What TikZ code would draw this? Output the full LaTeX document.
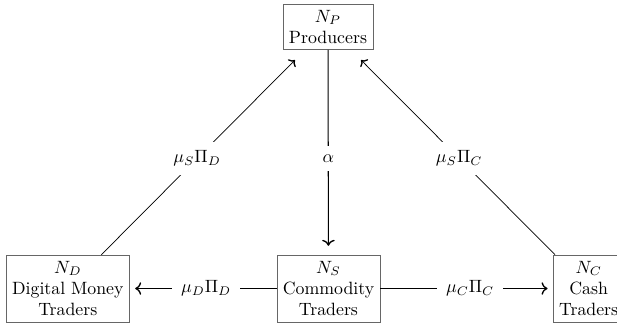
\documentclass[tikz,border=0pt]{standalone}
\usepackage{amsmath, amssymb}
\usepackage{tikz}
\usetikzlibrary{arrows.meta}

\begin{document}
\begin{tikzpicture}[
    >={To[scale=1.15, line width=0.75pt]},
    agent/.style={draw=gray!80!black, align=center},
    rate/.style={fill=white, inner sep=5pt}
  ]
  \useasboundingbox (0,0) rectangle (12.19,-6.44);

  \node[agent] (NP) at (6.48,-0.53) {$N_P$\\Producers};
  \node[agent] (NS) at (6.49,-5.70) {$N_S$\\Commodity\\Traders};
  \node[agent] (ND) at (1.34,-5.70) {$N_D$\\Digital Money\\Traders};
  \node[agent] (NC) at (11.63,-5.70) {$N_C$\\Cash\\Traders};

  \draw[->, shorten >=8pt] (ND) -- node[rate, pos=0.47] {$\mu_S\Pi_D$} (NP);
  \draw[->, shorten >=8pt] (NC) -- node[rate, pos=0.47] {$\mu_S\Pi_C$} (NP);
  \draw[->, semithick, shorten >=5pt] (NP) -- node[rate, pos=0.53] {$\alpha$} (NS);
  \draw[->, semithick, shorten >=3pt] (NS) -- node[rate, pos=0.48] {$\mu_D\Pi_D$} (ND);
  \draw[->, semithick, shorten >=3pt] (NS) -- node[rate, pos=0.52] {$\mu_C\Pi_C$} (NC);
\end{tikzpicture}
\end{document}
